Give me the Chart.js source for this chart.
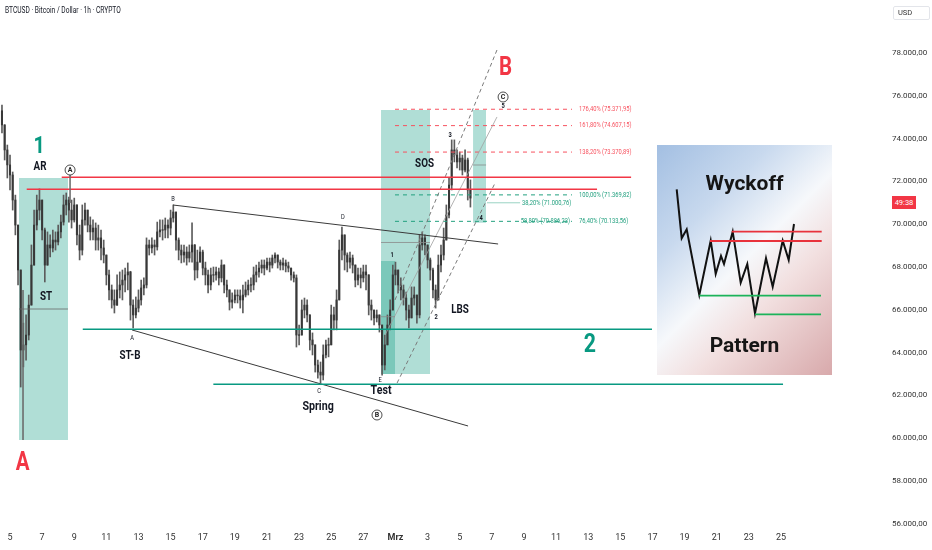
<!DOCTYPE html>
<html lang="de">
<head>
  <meta charset="UTF-8">
  <title>BTCUSD Wyckoff</title>
  <script src="https://cdn.jsdelivr.net/npm/chart.js"></script>
  <style>
    body {
      margin: 0;
      background: #fff;
      font-family: Roboto, sans-serif;
    }
    .wrap { position: relative; width: 932px; height: 550px; overflow: hidden; }
    #box { position: absolute; left: 0; top: 0; width: 932px; height: 550px; }
    .title {
      position: absolute; left: 5px; top: 5px; font-size: 8.5px; color: #131722;
      transform: scaleX(0.78); transform-origin: left top; white-space: nowrap;
    }
    .usd {
      position: absolute; left: 893px; top: 6px; width: 37px; height: 14px;
      border: 1px solid #e3e5ea; border-radius: 2px; box-sizing: border-box;
      font-size: 7.5px; line-height: 12px; padding-left: 4px; color: #333;
    }
    .tag {
      position: absolute; left: 892px; top: 196px; width: 24px; height: 13px;
      background: #f23645; color: #fff; font-size: 7.5px; line-height: 13px; text-align: center;
    }
    .inset {
      position: absolute; left: 657px; top: 145px; width: 175px; height: 230px;
      background: linear-gradient(135deg, #a3bfe2 0%, #c8d9ee 28%, #f6f8fb 50%, #f2e0e0 66%, #d8a9ab 100%);
    }
    #ibox { position: absolute; left: 0; top: 0; width: 175px; height: 230px; }
    .inset .w {
      position: absolute; left: 0; width: 100%; text-align: center;
      font-family: Roboto, sans-serif; font-weight: 700; font-size: 21px; color: #151515;
    }
  </style>
</head>
<body>
  <div class="wrap">
    <div id="box"><canvas id="main"></canvas></div>
    <div class="title">BTCUSD · Bitcoin / Dollar · 1h · CRYPTO</div>
    <div class="usd">USD</div>
    <div class="tag">49:38</div>
    <div class="inset">
      <div id="ibox"><canvas id="insetChart"></canvas></div>
      <div class="w" style="top:26px">Wyckoff</div>
      <div class="w" style="top:188px">Pattern</div>
    </div>
  </div>

  <script>
    // 4h candles, day index: Feb d = d, Mar d = 28 + d
    const firstDay = 4.5;
    const firstOpen = 75300;
    const closes = [
      74640, 73470, 72770, 72300, 71130, 69960, 67860, 64120, 64360, 64820,
      66220, 68090, 69960, 70660, 71130, 69730, 68090, 69030, 68890, 69260,
      69170, 69640, 70100, 70900, 71130, 70660, 70200, 70900, 69500, 68790,
      70200, 70660, 69960, 69640, 69820, 69260, 69360, 68890, 68560, 67630,
      66930, 66460, 66220, 66930, 67160, 67390, 67630, 67770, 66220, 65760,
      66080, 66460, 67020, 67160, 69030, 68890, 69030, 68940, 69640, 69730,
      69730, 69960, 69820, 70290, 70570, 69260, 68790, 68560, 68700, 68420,
      68700, 69030, 67860, 68230, 68700, 67950, 67630, 67160, 67630, 67630,
      67770, 67490, 68090, 67160, 66930, 66360, 66460, 66690, 66650, 66460,
      66690, 66930, 67160, 67160, 67630, 67770, 67950, 68090, 67950, 68230,
      68090, 68420, 68560, 68230, 68090, 68190, 68050, 67950, 67630, 67490,
      64820, 64820, 65990, 66220, 65760, 64590, 64360, 63420, 63090, 62950,
      63890, 64360, 64360, 65760, 65520, 66460, 68790, 69500, 68560, 68230,
      68420, 68090, 67390, 67630, 67490, 67770, 67630, 66220, 65990, 65620,
      65760, 65290, 63420, 64360, 65290, 65990, 67630, 67860, 67160, 66930,
      66550, 65990, 65620, 66550, 66690, 65760, 69030, 69360, 69030, 68330,
      67860, 66930, 66460, 68090, 68560, 69260, 70430, 71830, 73470, 73230,
      72910, 73090, 72530, 73000, 71600, 71220
    ];
    const highs = [
      75570, 74650, 73700, 73230, 72440, 71360, 69960, 67860, 65380, 65760,
      66690, 69030, 70660, 71360, 71650, 71130, 69820, 69640, 69500, 69730,
      69640, 69960, 70430, 71360, 71460, 71270, 71130, 71220, 70900, 69960,
      70900, 70990, 70660, 70340, 70200, 70060, 69960, 69730, 69260, 68560,
      67860, 67160, 66930, 67630, 67770, 67860, 67950, 68190, 67800, 66460,
      66600, 66930, 67390, 67490, 69360, 69260, 69360, 69260, 70100, 70200,
      70200, 70290, 70200, 70660, 70900, 70570, 69360, 69030, 69030, 68940,
      69030, 70060, 69050, 68790, 68940, 68790, 68230, 67860, 67950, 68000,
      68000, 67950, 68330, 68100, 67390, 66930, 66790, 66930, 66930, 66930,
      67160, 67300, 67390, 67490, 68000, 68090, 68230, 68330, 68330, 68420,
      68420, 68560, 68660, 68560, 68330, 68420, 68330, 68230, 67950, 67770,
      67630, 65290, 66460, 66550, 66460, 65770, 64920, 64360, 63650, 63560,
      64360, 64590, 64680, 66220, 66130, 66930, 69260, 69870, 69500, 68660,
      68700, 68560, 68100, 67950, 67950, 68090, 68090, 67640, 66460, 65990,
      65990, 65760, 65290, 64820, 65760, 66460, 68090, 68230, 67860, 67490,
      67160, 66830, 66220, 67070, 67070, 66690, 69500, 69640, 69500, 69030,
      68420, 67950, 67160, 68560, 69030, 69820, 70900, 72160, 73940, 73940,
      73470, 73370, 73230, 73470, 73090, 72070
    ];
    const lows = [
      74260, 73000, 72160, 71600, 70660, 69500, 67160, 62390, 63330, 63650,
      64590, 66220, 68090, 69730, 70200, 69260, 67300, 68080, 68470, 68700,
      68790, 69030, 69360, 69960, 70430, 70100, 69820, 70100, 69030, 68330,
      68560, 69960, 69640, 69260, 69260, 68790, 68790, 68330, 68190, 67160,
      66460, 66080, 65850, 66200, 66550, 66460, 66830, 66930, 65520, 65150,
      65620, 65900, 66220, 66690, 67020, 68560, 68660, 68560, 68790, 69400,
      69260, 69360, 69360, 69500, 70100, 68790, 68330, 68190, 68230, 68090,
      68230, 68230, 67390, 67490, 68230, 67630, 67160, 66790, 66930, 67300,
      67390, 67160, 67300, 66790, 66600, 65990, 66080, 66320, 66320, 66080,
      65850, 66600, 66690, 66830, 66930, 67300, 67530, 67720, 67630, 67860,
      67770, 67950, 68190, 67950, 67860, 67860, 67770, 67770, 67390, 67300,
      64260, 64360, 64820, 65620, 65430, 64120, 63890, 63090, 62810, 62580,
      62720, 63750, 63800, 64360, 65060, 65060, 66460, 68330, 67860, 67770,
      67950, 67720, 67070, 67160, 67020, 67300, 66930, 65760, 65520, 65290,
      65430, 64960, 62950, 63190, 64360, 65060, 65990, 67160, 66790, 66460,
      66220, 65520, 65150, 65620, 66220, 65380, 65620, 68790, 68560, 67950,
      67390, 66550, 66080, 66460, 67770, 68330, 69260, 70290, 71600, 72910,
      72630, 72530, 72300, 72440, 71130, 70800
    ];

    const dayTicks = [5, 7, 9, 11, 13, 15, 17, 19, 21, 23, 25, 27, 29, 31, 33, 35, 37, 39, 41, 43, 45, 47, 49, 51, 53];
    const priceTicks = [56000, 58000, 60000, 62000, 64000, 66000, 68000, 70000, 72000, 74000, 76000, 78000];

    const fibLevels = [75371.95, 74607.15, 73370.89, 71369.82, 70133.56];
    const fibTexts = ['176,40% (75.371,95)', '161,80% (74.607,15)', '138,20% (73.370,89)', '100,00% (71.369,82)', '76,40% (70.133,56)'];
    const fibColors = ['#f7525f', '#f7525f', '#f7525f', '#22a07f', '#22a07f'];

    // wyckoff inset sketch (inset units, 0..175 x 0..230)
    const zigX = [19.7, 24.7, 29.7, 42.3, 53.7, 58.7, 64, 67, 75.7, 83.7, 90.3, 98, 109, 115.7, 125.7, 131.7, 137];
    const zigY = [185.7, 136.7, 145.7, 80, 134.3, 101, 119, 111, 143.3, 92.3, 111, 61.7, 116.7, 88.3, 134.3, 115, 151];

    const FONT = "Roboto, sans-serif";
    const TEAL = 'rgba(8,153,129,0.32)';

    function dayLabel(d) {
      if (d < 29) return String(d);
      if (d === 29) return 'Mrz';
      return String(d - 28);
    }
    function priceLabel(v) {
      return String(v).replace(/\B(?=(\d{3})+(?!\d))/g, '.') + ',00';
    }

    const days = closes.map((c, i) => firstDay + i / 6);
    const opens = closes.map((c, i) => i === 0 ? firstOpen : closes[i - 1]);

    function seg(d0, p0, d1, p1, color, width, dash) {
      return {
        type: 'line', data: [{ x: d0, y: p0 }, { x: d1, y: p1 }],
        borderColor: color, borderWidth: width, borderDash: dash || [],
        pointRadius: 0, fill: false, order: 1
      };
    }
    function box(d0, d1, top, bottom) {
      return {
        type: 'line', data: [{ x: d0, y: top }, { x: d1, y: top }],
        borderWidth: 0, borderColor: 'rgba(0,0,0,0)', backgroundColor: TEAL,
        fill: { value: bottom }, pointRadius: 0, order: 10
      };
    }

    const datasets = [
      {
        type: 'bar', data: days.map((d, i) => ({ x: d, y: [lows[i], highs[i]] })),
        backgroundColor: '#5c5c5c', barThickness: 1, grouped: false, order: 5
      },
      {
        type: 'bar',
        data: days.map((d, i) => ({ x: d, y: opens[i] === closes[i] ? [closes[i] - 15, closes[i] + 15] : [opens[i], closes[i]] })),
        backgroundColor: '#383838', barThickness: 1.4, grouped: false, order: 4
      },
      // rectangles
      box(5.56, 8.61, 72159, 59916),
      box(28.10, 31.15, 75337, 63000),
      box(28.10, 28.97, 68280, 63000),
      box(33.83, 34.64, 75337, 70070),
      // lines inside boxes
      seg(5.56, 66037, 8.61, 66037, '#6b6b6b', 0.8),
      seg(5.81, 66925, 5.81, 59916, '#6b6b6b', 0.8),
      seg(8.74, 72299, 8.74, 70991, '#6b6b6b', 0.8),
      seg(28.10, 69145, 31.15, 69145, '#8a8a8a', 0.8),
      seg(28.10, 65677, 28.97, 65677, '#8a8a8a', 0.8),
      seg(33.83, 72767, 34.64, 72767, '#8a8a8a', 0.8),
      // resistance and support
      seg(8.22, 72192, 43.67, 72192, '#f23645', 1.5),
      seg(6.04, 71631, 41.55, 71631, '#f23645', 1.5),
      seg(9.53, 65089, 44.97, 65089, '#089981', 1.5),
      seg(17.66, 62519, 53.13, 62519, '#089981', 1.5),
      // triangle
      seg(15.15, 70897, 35.39, 69075, '#3a3a3a', 1),
      seg(12.60, 65056, 33.52, 60570, '#3a3a3a', 1),
      // channel
      seg(28.97, 66458, 35.32, 78141, '#7a7a7a', 1, [4, 3]),
      seg(29.10, 62579, 35.20, 71925, '#7a7a7a', 1, [4, 3]),
      seg(28.35, 64822, 35.32, 75010, '#a0a0a0', 0.8),
      // 38.2% short line
      seg(34.70, 71000.76, 36.76, 71000.76, '#7fc6b4', 0.8)
    ];
    fibLevels.forEach((lv, i) => datasets.push(seg(28.97, lv, 39.99, lv, fibColors[i], 1, [4, 4])));

    const notes = [
      { t: '1', d: 6.81, p: 73608, size: 24, color: '#089981', bold: true },
      { t: 'AR', d: 6.87, p: 72673, size: 12, color: '#131722', bold: true },
      { t: 'ST', d: 7.24, p: 66598, size: 12, color: '#131722', bold: true },
      { t: 'A', d: 12.60, p: 64683, size: 7, color: '#131722' },
      { t: 'ST-B', d: 12.47, p: 63841, size: 12, color: '#131722', bold: true },
      { t: 'A', d: 5.78, p: 58794, size: 25, color: '#f23645', bold: true },
      { t: 'B', d: 15.15, p: 71178, size: 7, color: '#131722' },
      { t: 'D', d: 25.73, p: 70337, size: 7, color: '#131722' },
      { t: 'C', d: 24.24, p: 62206, size: 7, color: '#131722' },
      { t: 'Spring', d: 24.18, p: 61457, size: 13, color: '#131722', bold: true },
      { t: 'E', d: 28.04, p: 62720, size: 7, color: '#131722' },
      { t: 'Test', d: 28.10, p: 62206, size: 13, color: '#131722', bold: true },
      { t: '1', d: 28.79, p: 68561, size: 7, color: '#131722', bold: true },
      { t: '2', d: 31.53, p: 65664, size: 7, color: '#131722', bold: true },
      { t: '3', d: 32.40, p: 74168, size: 7, color: '#131722', bold: true },
      { t: '4', d: 34.33, p: 70290, size: 7, color: '#131722', bold: true },
      { t: '5', d: 35.70, p: 75524, size: 7, color: '#131722', bold: true },
      { t: 'SOS', d: 30.81, p: 72813, size: 12, color: '#131722', bold: true },
      { t: 'LBS', d: 33.02, p: 65991, size: 12, color: '#131722', bold: true },
      { t: 'B', d: 35.85, p: 77276, size: 25, color: '#f23645', bold: true },
      { t: '2', d: 41.11, p: 64309, size: 26, color: '#089981', bold: true }
    ];
    const circled = [
      { t: 'A', d: 8.74, p: 72533 },
      { t: 'B', d: 27.85, p: 61084 },
      { t: 'C', d: 35.70, p: 75944 }
    ];

    // condensed text, like the narrow chart font
    function squeezed(ctx, text, px, py, sx) {
      ctx.save();
      ctx.translate(px, py);
      ctx.scale(sx, 1);
      ctx.fillText(text, 0, 0);
      ctx.restore();
    }

    const notePlugin = {
      id: 'notes',
      afterDatasetsDraw(chart) {
        const { ctx, scales: { x, y } } = chart;
        ctx.save();
        ctx.textBaseline = 'middle';
        ctx.textAlign = 'center';
        notes.forEach(n => {
          ctx.font = (n.bold ? 'bold ' : '') + n.size + 'px ' + FONT;
          ctx.fillStyle = n.color;
          squeezed(ctx, n.t, x.getPixelForValue(n.d), y.getPixelForValue(n.p), 0.82);
        });
        circled.forEach(c => {
          const px = x.getPixelForValue(c.d), py = y.getPixelForValue(c.p);
          ctx.beginPath();
          ctx.arc(px, py, 5, 0, Math.PI * 2);
          ctx.strokeStyle = '#222';
          ctx.lineWidth = 0.8;
          ctx.stroke();
          ctx.font = 'bold 7px ' + FONT;
          ctx.fillStyle = '#222';
          ctx.fillText(c.t, px, py + 0.5);
        });
        ctx.textAlign = 'left';
        ctx.font = '7.5px ' + FONT;
        fibLevels.forEach((lv, i) => {
          ctx.fillStyle = fibColors[i];
          squeezed(ctx, fibTexts[i], x.getPixelForValue(40.43), y.getPixelForValue(lv), 0.77);
        });
        ctx.fillStyle = '#22a07f';
        squeezed(ctx, '38,20% (71.000,76)', x.getPixelForValue(36.88), y.getPixelForValue(71000.76), 0.77);
        squeezed(ctx, '58,80% (70.886,23)', x.getPixelForValue(36.80), y.getPixelForValue(70133.56), 0.77);
        ctx.restore();
      }
    };

    new Chart(document.getElementById('main'), {
      type: 'bar',
      data: { datasets: datasets },
      options: {
        responsive: true,
        maintainAspectRatio: false,
        animation: false,
        layout: { padding: 0 },
        plugins: { legend: { display: false }, tooltip: { enabled: false } },
        scales: {
          x: {
            type: 'linear', min: 4.377, max: 58.42, offset: false,
            grid: { display: false, drawTicks: false }, border: { display: false },
            afterBuildTicks: s => { s.ticks = dayTicks.map(v => ({ value: v })); },
            afterFit: s => { s.height = 23; s.paddingLeft = 0; s.paddingRight = 0; },
            ticks: {
              autoSkip: false, maxRotation: 0, padding: 5, color: '#333',
              font: c => ({ family: FONT, size: 9, weight: c.tick && c.tick.value === 29 ? 'bold' : 'normal' }),
              callback: v => dayLabel(v)
            }
          },
          y: {
            type: 'linear', position: 'right', min: 55850, max: 80477,
            grid: { display: false, drawTicks: false }, border: { display: false },
            afterBuildTicks: s => { s.ticks = priceTicks.map(v => ({ value: v })); },
            afterFit: s => { s.width = 64; s.paddingTop = 0; s.paddingBottom = 0; },
            ticks: { padding: 24, color: '#333', font: { family: FONT, size: 8 }, callback: v => priceLabel(v) }
          }
        }
      },
      plugins: [notePlugin]
    });

    const flat = (x0, x1, v, color) => ({
      data: [{ x: x0, y: v }, { x: x1, y: v }], borderColor: color, borderWidth: 1.8, pointRadius: 0
    });
    new Chart(document.getElementById('insetChart'), {
      type: 'line',
      data: {
        datasets: [
          flat(74.7, 164.7, 143.3, '#e8323c'),
          flat(53, 164.7, 134, '#e8323c'),
          flat(42.3, 164, 79.3, '#1cb35a'),
          flat(98, 164, 60.7, '#1cb35a'),
          { data: zigX.map((x, i) => ({ x: x, y: zigY[i] })), borderColor: '#111', borderWidth: 2, pointRadius: 0, tension: 0 }
        ]
      },
      options: {
        responsive: true, maintainAspectRatio: false, animation: false,
        layout: { padding: 0 },
        plugins: { legend: { display: false }, tooltip: { enabled: false } },
        scales: {
          x: { type: 'linear', min: 0, max: 175, display: false },
          y: { type: 'linear', min: 0, max: 230, display: false }
        }
      }
    });
  </script>
</body>
</html>
